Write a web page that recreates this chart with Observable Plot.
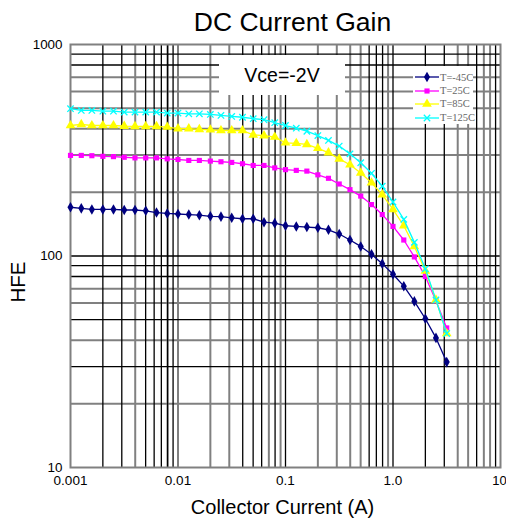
<!DOCTYPE html>
<html><head><meta charset="utf-8">
<script src="https://cdn.jsdelivr.net/npm/d3@7"></script>
<script src="https://cdn.jsdelivr.net/npm/@observablehq/plot@0.6"></script>
<style>
body{margin:0;background:#fff;overflow:hidden}
#wrap{position:relative;width:506px;height:522px}
#vce{position:absolute;left:219px;top:55px;width:126px;height:40px;background:#fff;font:19.5px "Liberation Sans",Arial,sans-serif;display:flex;align-items:center;justify-content:center;color:#000}
#legend{position:absolute;left:413px;top:66px;width:60px;height:58px;background:#fff;font:10.5px "Liberation Serif","Times New Roman",serif;color:#666}
.row{position:absolute;left:2px;height:12px;display:flex;align-items:center;white-space:nowrap}
.row svg{margin-right:1px}
</style></head>
<body><div id="wrap"><div id="vce">Vce=-2V</div><div id="legend"></div></div>
<script>
// Collector current (A)
const current = [0.001,0.00126,0.00158,0.002,0.00251,0.00316,0.00398,0.00501,0.00631,0.00794,
  0.01,0.0126,0.0158,0.02,0.0251,0.0316,0.0398,0.0501,0.0631,0.0794,
  0.1,0.126,0.158,0.2,0.251,0.316,0.398,0.501,0.631,0.794,
  1.0,1.26,1.58,2.0,2.51,3.16];
// HFE per temperature
const hfeM45 = [170,168,166,166,166,165,165,163.5,160.5,159,158,157,156,154,153.5,151.5,150,150,144.5,143,139,138,137,136,133,127,119,111,102,92,82,72,61,50.5,41,31.5];
const hfe25  = [299,299,298,296,295,293,291,291,291,288,286,283,283,281,279,277,273,268,268,261,256,254,252,242,233,219,206,192,175,157,138,119,99,80,61.5,45.7];
const hfe85  = [414,419,414,414,414,411,410,410,410,407,400,400,397,395,392,392,392,374,371,365,343,341,337,323,308,288,270,247,222,195,166,139,111,85,62,43];
const hfe125 = [497,488,488,484,484,479,479,479,479,474,474,470,470,467,462,457,453,446,441,427,414,402,389,371,352,331,304,276,246,214,180,149,116,87,62,43];
const seriesNames = ["T=-45C","T=25C","T=85C","T=125C"];
const seriesValues = [hfeM45, hfe25, hfe85, hfe125];
// ticks
const xTicks = [0.001,0.01,0.1,1,10];
const xTickLabels = ["0.001","0.01","0.1","1.0","10"];
const yTicks = [10,100,1000];
const yTickLabels = ["10","100","1000"];
// grid lines
const xGridBlack = [0.002,0.003,0.005,0.006,0.007,0.008,0.009,0.04,0.05,0.06,0.08,0.1,0.6,0.7,0.8,1,2,3,6,9];
const xGridGray  = [0.004,0.008,0.01,0.02,0.03,0.07,0.09,0.2,0.3,0.4,0.5,0.9,4,5,7,8];
const yGridBlack = [30,50,80,90,100,800,900];
const yGridGray  = [20,40,60,70,200,300,400,500,600,700];

const colors = ["#000080","#FF00FF","#FFFF00","#00FFFF"];
const symbols = ["diamond","square","triangle","times"];
const symR = [3.2,2.9,3.6,3.0];

const xLabelMap = new Map(xTicks.map((t, i) => [t, xTickLabels[i]]));
const yLabelMap = new Map(yTicks.map((t, i) => [t, yTickLabels[i]]));
const xMax = xTicks[xTicks.length - 1];

const rows = [];
seriesValues.forEach((vals, s) => vals.forEach((v, i) => rows.push({s, name: seriesNames[s], x: current[i], y: v})));

const marks = [
  Plot.ruleY(yGridGray, {stroke:"#808080", strokeWidth:2}),
  Plot.ruleX(xGridGray, {stroke:"#808080", strokeWidth:2}),
  Plot.ruleY(yGridBlack, {stroke:"#000", strokeWidth:1.3}),
  Plot.ruleX(xGridBlack, {stroke:"#000", strokeWidth:1.3}),
  Plot.frame({stroke:"#808080", strokeWidth:2}),
];
seriesValues.forEach((vals, s) => {
  const d = rows.filter(r => r.s === s);
  marks.push(Plot.line(d, {x:"x", y:"y", stroke: colors[s], strokeWidth: 1.3}));
  const dotOpts = {x:"x", y:"y", symbol: () => symbols[s], r: symR[s]};
  if (symbols[s] === "times") { dotOpts.stroke = colors[s]; dotOpts.strokeWidth = 1.3; dotOpts.fill = "none"; }
  else { dotOpts.fill = colors[s]; dotOpts.stroke = "none"; }
  marks.push(Plot.dot(d, dotOpts));
});
marks.push(
  Plot.axisX(xTicks.filter(t => t !== xMax), {tickSize:0, tickPadding:8, tickFormat: d => xLabelMap.get(d), fontSize:13.5, label:null}),
  Plot.axisX([xMax], {tickSize:0, tickPadding:8, tickFormat: d => xLabelMap.get(d), fontSize:13, dx:-1, label:null}),
  Plot.axisY(yTicks, {tickSize:0, tickPadding:8, tickFormat: d => yLabelMap.get(d), fontSize:13.4, label:null}),
  Plot.text(["DC Current Gain"], {frameAnchor:"top", lineAnchor:"middle", dx:7, dy:-22, fontSize:26.5}),
  Plot.text(["Collector Current (A)"], {frameAnchor:"bottom", lineAnchor:"middle", dx:-3, dy:40, fontSize:20}),
  Plot.text(["HFE"], {frameAnchor:"left", textAnchor:"middle", lineAnchor:"middle", rotate:-90, dx:-52.5, dy:26, fontSize:20.5})
);

const chart = Plot.plot({
  width:506, height:522,
  marginLeft:70, marginRight:6, marginTop:44, marginBottom:55,
  style:{fontFamily:'"Liberation Sans", Arial, sans-serif', background:"#fff", color:"#000"},
  x:{type:"log", domain:[0.001,10], label:null},
  y:{type:"log", domain:[10,1000], label:null},
  marks
});
const wrap = document.getElementById("wrap");
wrap.insertBefore(chart, wrap.firstChild);
chart.style.position = "absolute"; chart.style.left = "0"; chart.style.top = "0";

// legend
const legend = d3.select("#legend");
const symTypes = [d3.symbolDiamond, d3.symbolSquare, d3.symbolTriangle, d3.symbolTimes];
const rowTops = [5, 18.5, 31.5, 45.5];
seriesNames.forEach((name, s) => {
  const row = legend.append("div").attr("class","row").style("top", rowTops[s] + "px");
  const sv = row.append("svg").attr("width",24).attr("height",12);
  sv.append("line").attr("x1",0).attr("x2",24).attr("y1",6).attr("y2",6).attr("stroke",colors[s]).attr("stroke-width",1.3);
  const p = sv.append("path").attr("transform","translate(12,6)")
    .attr("d", d3.symbol(symTypes[s], Math.PI*symR[s]*symR[s])());
  if (s === 3) p.attr("fill","none").attr("stroke",colors[s]).attr("stroke-width",1.3);
  else p.attr("fill",colors[s]);
  row.append("span").text(name);
});
</script>
</body></html>
